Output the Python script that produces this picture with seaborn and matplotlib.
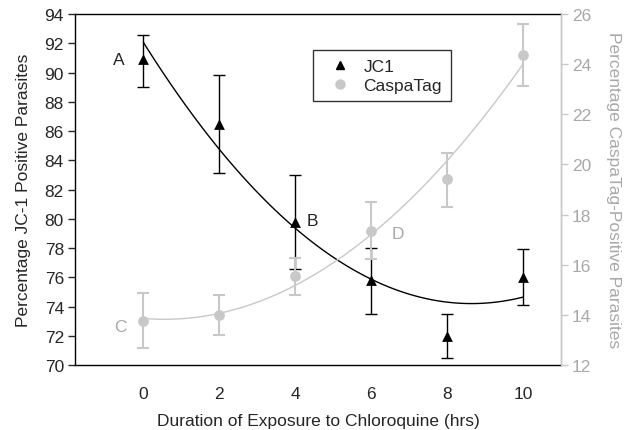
import numpy as np
import pandas as pd
import matplotlib.pyplot as plt
import seaborn as sns
from matplotlib.lines import Line2D

# values
hours = [0, 2, 4, 6, 8, 10]
jc1 = [90.9, 86.5, 79.8, 75.8, 72.0, 76.0]
jc1_hi = [92.6, 89.8, 83.0, 78.0, 73.5, 77.9]
jc1_lo = [89.0, 83.1, 76.6, 73.5, 70.5, 74.1]
caspa = [13.77, 14.0, 15.55, 17.36, 19.42, 24.36]
caspa_hi = [14.86, 14.78, 16.28, 18.49, 20.47, 25.61]
caspa_lo = [12.66, 13.2, 14.8, 16.22, 18.29, 23.12]

grey = '#c8c8c8'
grey_txt = '#a8a8a8'
fs = 12.5

sns.set_style('ticks')
plt.rcParams['font.family'] = ['Liberation Sans', 'DejaVu Sans']

df = pd.DataFrame({'hours': hours, 'jc1': jc1, 'caspa': caspa})

fig = plt.figure(figsize=(6.27, 4.31), dpi=100)
ax = fig.add_axes([0.1196, 0.1508, 0.7751, 0.8142])
ax2 = ax.twinx()

# JC1 on left axis
sns.regplot(data=df, x='hours', y='jc1', order=2, ci=None, scatter=False,
            line_kws={'color': 'black', 'lw': 1.0}, ax=ax)
ax.errorbar(hours, jc1,
            yerr=[np.subtract(jc1, jc1_lo), np.subtract(jc1_hi, jc1)],
            fmt='none', ecolor='black', elinewidth=1.0, capsize=4, capthick=1.0)
sns.scatterplot(data=df, x='hours', y='jc1', marker='^', s=60, color='black',
                edgecolor='black', linewidth=0, ax=ax, zorder=5)

# CaspaTag on right axis
sns.regplot(data=df, x='hours', y='caspa', order=2, ci=None, scatter=False,
            line_kws={'color': grey, 'lw': 1.0}, ax=ax2)
ax2.errorbar(hours, caspa,
             yerr=[np.subtract(caspa, caspa_lo), np.subtract(caspa_hi, caspa)],
             fmt='none', ecolor=grey, elinewidth=1.5, capsize=4, capthick=1.5)
sns.scatterplot(data=df, x='hours', y='caspa', marker='o', s=60, color=grey,
                edgecolor=grey, linewidth=0, ax=ax2, zorder=5)

ax.set_xlim(-1.8, 11.0)
ax.set_ylim(70, 94)
ax.set_yticks(range(70, 95, 2))
ax.set_xticks(hours)
ax2.set_ylim(12, 26)
ax2.set_yticks(range(12, 27, 2))

ax.tick_params(axis='x', length=0, pad=15, labelsize=fs)
ax.tick_params(axis='y', length=5, width=1, labelsize=fs, pad=3)
ax2.tick_params(axis='y', length=5, width=1, labelsize=fs, pad=3,
                color=grey, labelcolor=grey_txt)

for s in ['left', 'bottom', 'top']:
    ax.spines[s].set_color('black')
    ax.spines[s].set_linewidth(1.0)
ax2.spines['right'].set_color(grey)
ax2.spines['right'].set_linewidth(1.0)
for s in ['left', 'bottom', 'top']:
    ax2.spines[s].set_visible(False)

ax.set_xlabel('Duration of Exposure to Chloroquine (hrs)', fontsize=fs,
              labelpad=9)
ax.set_ylabel('Percentage JC-1 Positive Parasites', fontsize=fs, labelpad=10)
ax2.set_ylabel('Percentage CaspaTag-Positive Parasites', fontsize=fs,
               color=grey_txt, rotation=270, labelpad=21)

ax.text(-0.65, 90.9, 'A', fontsize=fs, ha='center', va='center')
ax.text(4.45, 79.9, 'B', fontsize=fs, ha='center', va='center')
ax.text(-0.6, 72.6, 'C', fontsize=fs, ha='center', va='center', color=grey_txt)
ax.text(6.7, 79.0, 'D', fontsize=fs, ha='center', va='center', color=grey_txt)

handles = [Line2D([], [], marker='^', ls='none', color='black', markersize=6),
           Line2D([], [], marker='o', ls='none', color=grey, markeredgecolor=grey,
                  markersize=6.5)]
leg = ax2.legend(handles, ['JC1', 'CaspaTag'], loc='upper left',
                 bbox_to_anchor=(0.49, 0.897), frameon=True, fancybox=False,
                 edgecolor='black', fontsize=fs, handletextpad=0.3,
                 borderpad=0.5, labelspacing=0.2, handlelength=2.1,
                 borderaxespad=0)
leg.get_frame().set_linewidth(1.0)

fig.savefig('out.png', dpi=100)
